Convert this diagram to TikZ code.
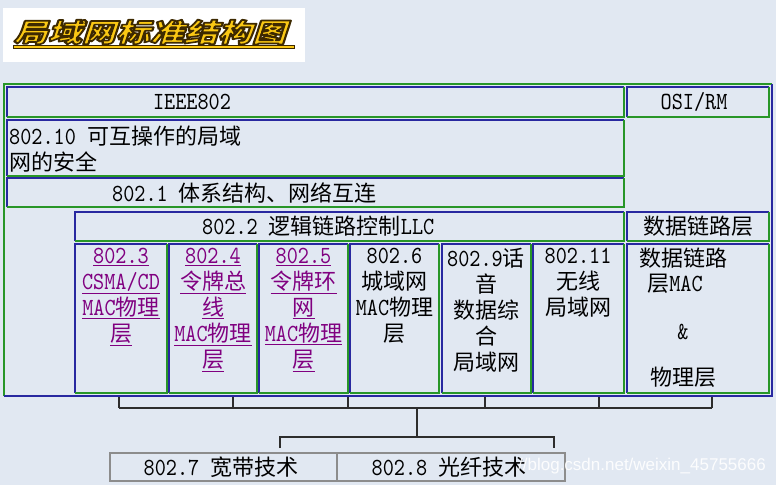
\documentclass[tikz,border=0pt]{standalone}
\usepackage{fontspec}
\setmainfont{Noto Sans CJK SC}
\newfontfamily\latfont{lmmono10-regular.otf}[FakeStretch=0.86,Scale=1.12]
\newfontfamily\wmfont{Liberation Sans}
\usetikzlibrary{fit}
\definecolor{bgc}{RGB}{225,232,242}
\definecolor{lnb}{RGB}{40,40,160}
\definecolor{lng}{RGB}{40,150,40}
\definecolor{lnk}{RGB}{128,0,128}
\definecolor{ttly}{RGB}{250,200,20}
\definecolor{ttld}{RGB}{60,40,0}
\definecolor{brkc}{RGB}{45,45,45}
\definecolor{grayb}{RGB}{140,140,140}
\newcommand\mlat[1]{{\latfont #1}}
\newcommand\uln[1]{\underline{#1}}
\newcommand\outlined[1]{\special{pdf:literal direct 2 Tr 1.7 w 0.24 0.16 0 RG 1 j}#1\special{pdf:literal direct 0 Tr}}
\newcommand\inbox[3]{%
  \node[fit={#2 #3}, inner sep=0pt, draw=none] (#1) {};
  \draw[lnb, line width=1.6pt] (#1.south west) |- (#1.north east);
  \draw[lng, line width=1.6pt] (#1.north east) |- (#1.south west);
}
\tikzset{
  coltext/.style={anchor=north, align=center, inner sep=0pt},
  brk/.style={draw=brkc, line width=1.3pt},
  graybox/.style={draw=grayb, line width=1.6pt, inner sep=0pt},
  ttl/.style={transform shape, inner sep=0pt, font=\fontsize{26}{26}\selectfont\bfseries},
}
\begin{document}
\begin{tikzpicture}[x=1pt, y=-1pt, font=\fontsize{22}{26}\selectfont]
\fill[bgc] (0,0) rectangle (776,485);
\useasboundingbox (0,0) rectangle (776,485);

% title
\fill[white] (3,8) rectangle (305,62);
\draw[ttld, line width=4pt] (13,47) -- (295,47);
\draw[ttly, line width=2pt] (14,47) -- (294,47);
\begin{scope}[shift={(153,32)}, xscale=1.31, xslant=0.25]
  \node[ttl, text=ttly] (ttl) at (0,0) {\outlined{局域网标准结构图}};
\end{scope}

% outer box
\node[fit={(4,84) (772,396)}, inner sep=0pt] (outer) {};
\draw[lng, line width=1.6pt] (outer.south west) |- (outer.north east);
\draw[lnb, line width=1.6pt] (outer.north east) |- (outer.south west);

% inner boxes
\inbox{ieee}{(7,87)}{(624,117)}
\inbox{osi}{(627,87)}{(769,117)}
\inbox{b10}{(7,120)}{(624,176)}
\inbox{b1}{(7,178)}{(624,207)}
\inbox{b2}{(75,212)}{(624,241)}
\inbox{dll}{(627,212)}{(769,241)}
\inbox{c3}{(75,244)}{(167,393)}
\inbox{c4}{(169,244)}{(257,393)}
\inbox{c5}{(259,244)}{(348,393)}
\inbox{c6}{(350,244)}{(439,393)}
\inbox{c9}{(442,244)}{(531,393)}
\inbox{c11}{(533,244)}{(624,393)}
\inbox{cmac}{(627,244)}{(769,393)}

% texts
\node[inner sep=0pt] (tieee) at (192,102) {\mlat{IEEE802}};
\node[inner sep=0pt] (tosi) at (694,102) {\mlat{OSI/RM}};
\node[anchor=north west, align=left, inner sep=0pt] (t10) at (9,126) {\mlat{802.10 }可互操作的局域\\网的安全};
\node[anchor=west, inner sep=0pt] (t1) at (112,193) {\mlat{802.1 }体系结构、网络互连};
\node[anchor=west, inner sep=0pt] (t2) at (202,226) {\mlat{802.2 }逻辑链路控制\mlat{LLC}};
\node[inner sep=0pt] (tdll) at (698,226) {数据链路层};

\node[coltext, text=lnk] (tc3) at (121,248) {\uln{\mlat{802.3}}\\\uln{\mlat{CSMA/CD}}\\\uln{\mlat{MAC}物理}\\\uln{层}};
\node[coltext, text=lnk] (tc4) at (213,248) {\uln{\mlat{802.4}}\\\uln{令牌总}\\\uln{线}\\\uln{\mlat{MAC}物理}\\\uln{层}};
\node[coltext, text=lnk] (tc5) at (303.5,248) {\uln{\mlat{802.5}}\\\uln{令牌环}\\\uln{网}\\\uln{\mlat{MAC}物理}\\\uln{层}};
\node[coltext] (tc6) at (394.5,248) {\mlat{802.6}\\城域网\\\mlat{MAC}物理\\层};
\node[coltext] (tc9) at (486,248) {\mlat{802.9}话\\音\\数据综\\合\\局域网};
\node[coltext] (tc11) at (578,248) {\mlat{802.11}\\无线\\局域网};
\node[inner sep=0pt] (tm1) at (683,258) {数据链路};
\node[inner sep=0pt] (tm2) at (675,284) {层\mlat{MAC}};
\node[inner sep=0pt] (tm3) at (683,332) {\mlat{\&}};
\node[inner sep=0pt] (tm4) at (683,377) {物理层};

% bracket
\foreach \i/\x in {1/119,2/233,3/348,4/485,5/599,6/712}{
  \coordinate (ta\i) at (\x,397);
  \coordinate (tb\i) at (\x,408);
  \draw[brk] (ta\i) -- (tb\i);
}
\draw[brk] (tb1) -- (tb6);
\coordinate (m1) at (417,408);
\coordinate (m2) at (417,437);
\draw[brk] (m1) -- (m2);
\coordinate (l1) at (280,437);
\coordinate (l2) at (554,437);
\coordinate (l1b) at (280,448);
\coordinate (l2b) at (554,448);
\draw[brk] (l1b) -- (l1) -- (l2) -- (l2b);

% bottom boxes
\node[graybox, fit={(110,453) (337,481)}] (b7) {};
\node[graybox, fit={(337,453) (565,481)}] (b8) {};
\node[inner sep=0pt] (t7) at (221,467) {\mlat{802.7 }宽带技术};
\node[inner sep=0pt] (t8) at (449,467) {\mlat{802.8 }光纤技术};

% watermark
\node[anchor=east, inner sep=0pt, font=\wmfont\fontsize{17}{17}\selectfont, text=white, opacity=0.9] (wm) at (766,466) {//blog.csdn.net/weixin\_45755666};
\end{tikzpicture}
\end{document}
